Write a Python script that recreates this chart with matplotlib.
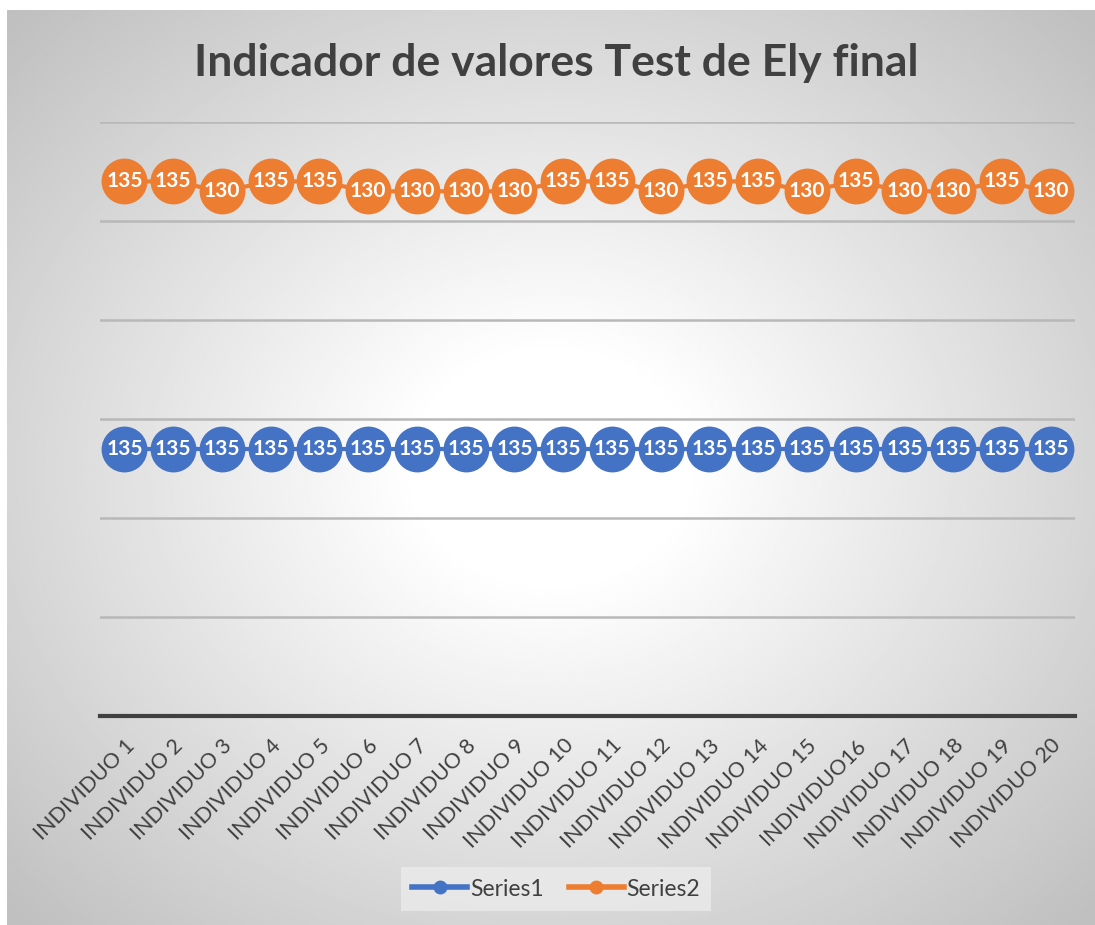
import numpy as np
import matplotlib.pyplot as plt
from matplotlib.lines import Line2D

plt.rcParams['font.family'] = ['Lato', 'DejaVu Sans']

categories = ['INDIVIDUO 1', 'INDIVIDUO 2', 'INDIVIDUO 3', 'INDIVIDUO 4', 'INDIVIDUO 5',
              'INDIVIDUO 6', 'INDIVIDUO 7', 'INDIVIDUO 8', 'INDIVIDUO 9', 'INDIVIDUO 10',
              'INDIVIDUO 11', 'INDIVIDUO 12', 'INDIVIDUO 13', 'INDIVIDUO 14', 'INDIVIDUO 15',
              'INDIVIDUO16', 'INDIVIDUO 17', 'INDIVIDUO 18', 'INDIVIDUO 19', 'INDIVIDUO 20']
series1 = [135] * 20
series2 = [135, 135, 130, 135, 135, 130, 130, 130, 130, 135,
           135, 130, 135, 135, 130, 135, 130, 130, 135, 130]

blue = '#4472C4'
orange = '#ED7D31'
text_col = '#404040'

W, H = 1095, 925
fig = plt.figure(figsize=(W / 100, H / 100), dpi=100)

# radial gradient background of the chart area
bg = fig.add_axes([7 / W, 0, (W - 7) / W, (H - 10) / H])
gx, gy = np.meshgrid(np.linspace(-1, 1, 400), np.linspace(-1, 1, 400))
r = np.sqrt(gx ** 2 + gy ** 2)
t = np.clip((r - 0.25) / 1.15, 0, 1)
img = 1.0 - t * 0.25
bg.imshow(img, cmap='gray', vmin=0, vmax=1, aspect='auto', extent=[0, 1, 0, 1])
bg.set_axis_off()

# plot area
ax = fig.add_axes([100 / W, (H - 716) / H, 975 / W, (716 - 122) / H])
ax.patch.set_alpha(0)
x = np.arange(len(categories))
s1 = np.array(series1)
s2 = np.array(series2)
top = s1 + s2  # stacked line

ax.set_xlim(-0.5, len(categories) - 0.5)
ax.set_ylim(0, 300)
ax.set_yticks(np.arange(50, 301, 50))
ax.yaxis.grid(True, color='#b8b8b8', linewidth=1.8)
ax.set_axisbelow(True)
ax.tick_params(axis='y', length=0, labelleft=False)
for s in ['top', 'right', 'left']:
    ax.spines[s].set_visible(False)
ax.spines['bottom'].set_color(text_col)
ax.spines['bottom'].set_linewidth(3)

ax.plot(x, s1, color=blue, linewidth=3, marker='o', markersize=32, zorder=3)
ax.plot(x, top, color=orange, linewidth=3, marker='o', markersize=32, zorder=3)
for xi, v, yv in zip(x, s1, s1):
    ax.text(xi, yv, str(v), color='white', fontsize=15, fontweight='bold',
            ha='center', va='center', zorder=4)
for xi, v, yv in zip(x, s2, top):
    ax.text(xi, yv, str(v), color='white', fontsize=15, fontweight='bold',
            ha='center', va='center', zorder=4)

ax.set_xticks(x)
ax.set_xticklabels(categories, rotation=45, ha='right', rotation_mode='anchor',
                   fontsize=15.5, color=text_col)
ax.tick_params(axis='x', length=0, pad=14)

fig.text(556 / W, 1 - 63 / H, 'Indicador de valores Test de Ely final',
         ha='center', va='center', fontsize=32, fontweight='bold', color=text_col)

handles = [Line2D([], [], color=blue, linewidth=4, marker='o', markersize=9),
           Line2D([], [], color=orange, linewidth=4, marker='o', markersize=9)]
leg = fig.legend(handles, ['Series1', 'Series2'], loc='center',
                 bbox_to_anchor=(556 / W, 1 - 889 / H), ncol=2, frameon=True,
                 fontsize=16.5, handlelength=2.4, handletextpad=0.1, columnspacing=1.1,
                 fancybox=False, borderpad=0.5)
leg.get_frame().set_facecolor('#ebebeb')
leg.get_frame().set_edgecolor('none')
for txt in leg.get_texts():
    txt.set_color(text_col)

fig.savefig('out.png', dpi=100)
